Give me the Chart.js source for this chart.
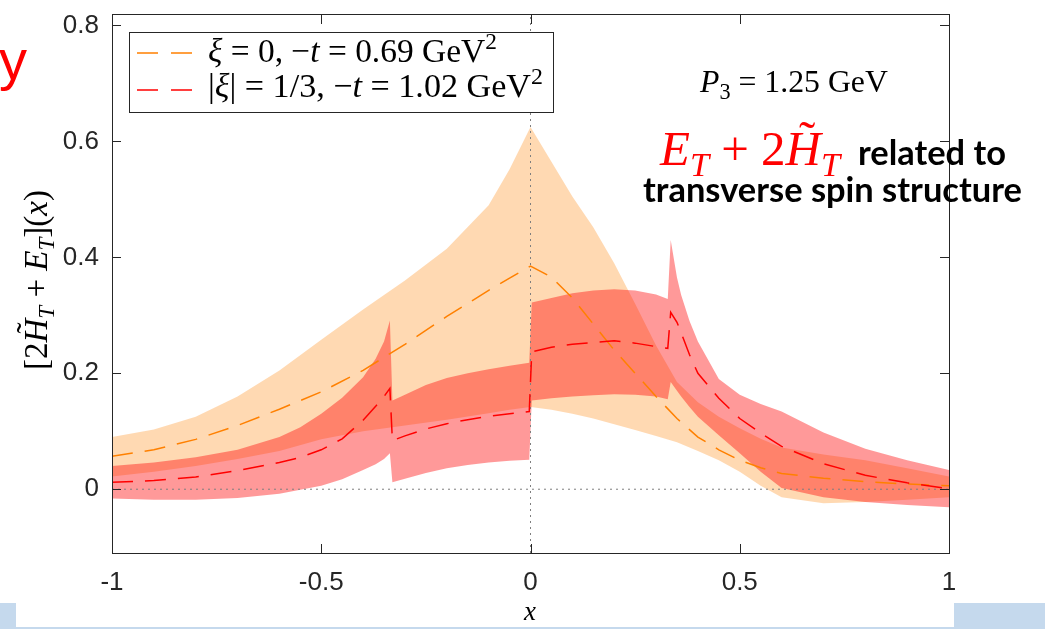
<!DOCTYPE html>
<html>
<head>
<meta charset="utf-8">
<style>
  html, body { margin: 0; padding: 0; background: #fff; }
  #wrap { position: relative; width: 1045px; height: 629px; }
</style>
<script src="https://cdn.jsdelivr.net/npm/chart.js@4.4.1/dist/chart.umd.min.js"></script>
</head>
<body>
<div id="wrap"><canvas id="gpd"></canvas></div>
<script>
// axis ranges and ticks
const xRange = [-1, 1];
const yRange = [-0.11, 0.818];
const xTicks = [-1, -0.5, 0, 0.5, 1];
const xTickLabels = ['-1', '-0.5', '0', '0.5', '1'];
const yTicks = [0, 0.2, 0.4, 0.6, 0.8];
const yTickLabels = ['0', '0.2', '0.4', '0.6', '0.8'];

// xi = 0, -t = 0.69 GeV^2 (orange)
const xOrange = [-1, -0.9, -0.8, -0.7, -0.6, -0.5, -0.4, -0.3, -0.2, -0.1, -0.05, 0,
  0.05, 0.1, 0.15, 0.2, 0.25, 0.3, 0.35, 0.4, 0.45, 0.5, 0.55, 0.6, 0.7, 0.8, 0.9, 1];
const orangeMid = [0.057, 0.068, 0.086, 0.110, 0.138, 0.168, 0.205, 0.250, 0.298, 0.343, 0.364, 0.385,
  0.366, 0.330, 0.285, 0.240, 0.200, 0.160, 0.122, 0.090, 0.068, 0.050, 0.037, 0.027, 0.019, 0.013, 0.009, 0.006];
const orangeHi = [0.090, 0.103, 0.125, 0.160, 0.205, 0.258, 0.310, 0.360, 0.415, 0.490, 0.552, 0.625,
  0.565, 0.505, 0.452, 0.390, 0.320, 0.248, 0.185, 0.150, 0.125, 0.105, 0.087, 0.072, 0.060, 0.050, 0.036, 0.022];
const orangeLo = [0.022, 0.030, 0.040, 0.052, 0.066, 0.086, 0.100, 0.110, 0.120, 0.131, 0.137, 0.142,
  0.137, 0.130, 0.122, 0.112, 0.102, 0.092, 0.081, 0.066, 0.050, 0.030, 0.006, -0.014, -0.024, -0.022, -0.018, -0.014];

// |xi| = 1/3, -t = 1.02 GeV^2 (red), jumps at x = -1/3, 0, 1/3
const xRed = [-1, -0.9, -0.8, -0.7, -0.6, -0.55, -0.5, -0.45, -0.4, -0.37, -0.35, -0.336,
  -0.330, -0.3, -0.25, -0.2, -0.15, -0.1, -0.05, -0.003,
  0.003, 0.05, 0.1, 0.15, 0.2, 0.25, 0.3, 0.328,
  0.335, 0.35, 0.36, 0.38, 0.4, 0.45, 0.5, 0.55, 0.6, 0.7, 0.8, 0.9, 1];
const redMid = [0.012, 0.015, 0.021, 0.032, 0.046, 0.055, 0.068, 0.087, 0.119, 0.143, 0.160, 0.174,
  0.084, 0.092, 0.104, 0.113, 0.120, 0.126, 0.130, 0.134,
  0.237, 0.245, 0.250, 0.253, 0.256, 0.252, 0.246, 0.243,
  0.305, 0.288, 0.270, 0.232, 0.200, 0.157, 0.122, 0.097, 0.074, 0.044, 0.024, 0.011, 0.001];
const redHi = [0.040, 0.046, 0.055, 0.068, 0.090, 0.107, 0.130, 0.158, 0.193, 0.225, 0.255, 0.291,
  0.153, 0.163, 0.180, 0.192, 0.200, 0.207, 0.213, 0.218,
  0.322, 0.330, 0.338, 0.343, 0.345, 0.343, 0.336, 0.328,
  0.430, 0.365, 0.335, 0.290, 0.255, 0.190, 0.163, 0.147, 0.134, 0.098, 0.070, 0.050, 0.033];
const redLo = [-0.016, -0.018, -0.018, -0.015, -0.008, -0.001, 0.006, 0.017, 0.033, 0.043, 0.052, 0.062,
  0.012, 0.018, 0.028, 0.036, 0.042, 0.046, 0.049, 0.051,
  0.153, 0.157, 0.160, 0.162, 0.164, 0.163, 0.160, 0.155,
  0.185, 0.170, 0.160, 0.142, 0.125, 0.093, 0.062, 0.030, 0.002, -0.014, -0.022, -0.027, -0.031];

const ORANGE = 'rgb(255,128,0)';
const RED = 'rgb(255,0,0)';
const SERIF = "'Liberation Serif', 'DejaVu Serif', serif";
const SANS = "'Liberation Sans', Arial, sans-serif";
const NONE = 'rgba(0,0,0,0)';

function toPts(xs, ys) {
  return xs.map((x, i) => ({ x: x, y: ys[i] }));
}

// --- small rich text helper for the LaTeX-like labels ---
function pieceFont(p, size) {
  const s = (p.sub || p.sup) ? size * 0.7 : size;
  const style = p.i ? 'italic ' : '';
  const weight = p.b ? 'bold ' : '';
  return style + weight + s + 'px ' + (p.family || SERIF);
}

function richWidth(ctx, pieces, size) {
  let w = 0;
  pieces.forEach(p => {
    ctx.font = pieceFont(p, size);
    w += ctx.measureText(p.t).width;
  });
  return w;
}

function fitSize(ctx, pieces, base, width) {
  return base * width / richWidth(ctx, pieces, base);
}

function drawRich(ctx, pieces, x, y, size, color) {
  ctx.textBaseline = 'alphabetic';
  ctx.textAlign = 'left';
  let cx = x;
  pieces.forEach(p => {
    ctx.font = pieceFont(p, size);
    ctx.fillStyle = p.color || color;
    let dy = 0;
    if (p.sub) dy = size * 0.22;
    if (p.sup) dy = -size * 0.38;
    ctx.fillText(p.t, cx, y + dy);
    const w = ctx.measureText(p.t).width;
    if (p.tilde) {
      ctx.font = size + 'px ' + SERIF;
      const tw = ctx.measureText('\u02DC').width;
      ctx.fillText('\u02DC', cx + w / 2 - tw / 2 + size * 0.08, y - size * 0.2);
    }
    cx += w;
  });
}

const legendLine1 = [
  { t: 'ξ', i: true }, { t: ' = 0, −' }, { t: 't', i: true }, { t: ' = 0.69 GeV' }, { t: '2', sup: true }
];
const legendLine2 = [
  { t: '|' }, { t: 'ξ', i: true }, { t: '| = 1/3, −' }, { t: 't', i: true }, { t: ' = 1.02 GeV' }, { t: '2', sup: true }
];
const momentumText = [
  { t: 'P', i: true }, { t: '3', sub: true }, { t: ' = 1.25 GeV' }
];
const redFormula = [
  { t: 'E', i: true }, { t: 'T', i: true, sub: true }, { t: ' + 2' }, { t: 'H', i: true, tilde: true }, { t: 'T', i: true, sub: true }
];
const yTitle = [
  { t: '[2' }, { t: 'H', i: true, tilde: true }, { t: 'T', i: true, sub: true }, { t: ' + ' },
  { t: 'E', i: true }, { t: 'T', i: true, sub: true }, { t: '](' }, { t: 'x', i: true }, { t: ')' }
];

const decor = {
  id: 'decor',
  beforeDraw(chart) {
    const ctx = chart.ctx;
    ctx.save();
    ctx.fillStyle = '#fff';
    ctx.fillRect(0, 0, chart.width, chart.height);
    // slide remnants
    ctx.fillStyle = '#c5d9ed';
    ctx.fillRect(0, 603, 16, 26);
    ctx.fillRect(954, 603, 91, 26);
    ctx.fillRect(0, 627, 1045, 2);
    ctx.fillStyle = RED;
    ctx.font = '56px ' + SANS;
    ctx.textBaseline = 'alphabetic';
    ctx.fillText('y', -1, 79);
    ctx.restore();
  },
  afterDatasetsDraw(chart) {
    const ctx = chart.ctx;
    const a = chart.chartArea;
    const xs = chart.scales.x, ys = chart.scales.y;
    ctx.save();
    ctx.strokeStyle = '#262626';
    ctx.lineWidth = 1;
    ctx.setLineDash([]);
    ctx.strokeRect(a.left + 0.5, a.top - 0.5, a.right - a.left, a.bottom - a.top + 1);
    const tl = 9;
    ctx.beginPath();
    yTicks.forEach(v => {
      const py = Math.round(ys.getPixelForValue(v)) + 0.5;
      ctx.moveTo(a.left, py); ctx.lineTo(a.left + tl, py);
      ctx.moveTo(a.right, py); ctx.lineTo(a.right - tl, py);
    });
    xTicks.forEach(v => {
      const px = Math.round(xs.getPixelForValue(v)) + 0.5;
      ctx.moveTo(px, a.bottom); ctx.lineTo(px, a.bottom - tl);
      ctx.moveTo(px, a.top); ctx.lineTo(px, a.top + tl);
    });
    ctx.stroke();
    ctx.restore();
  },
  afterDraw(chart) {
    const ctx = chart.ctx;
    ctx.save();

    // legend box
    ctx.fillStyle = '#fff';
    ctx.fillRect(129.5, 32.5, 424, 80);
    ctx.strokeStyle = '#262626';
    ctx.lineWidth = 1;
    ctx.strokeRect(129.5, 32.5, 424, 80);
    ctx.lineWidth = 1.6;
    ctx.setLineDash([21, 13]);
    ctx.strokeStyle = ORANGE;
    ctx.beginPath(); ctx.moveTo(137, 53); ctx.lineTo(193, 53); ctx.stroke();
    ctx.strokeStyle = RED;
    ctx.beginPath(); ctx.moveTo(137, 90); ctx.lineTo(193, 90); ctx.stroke();
    ctx.setLineDash([]);
    drawRich(ctx, legendLine1, 208, 62, fitSize(ctx, legendLine1, 30, 289), '#000');
    drawRich(ctx, legendLine2, 208, 97, fitSize(ctx, legendLine2, 30, 335), '#000');

    // annotations
    drawRich(ctx, momentumText, 700, 92, fitSize(ctx, momentumText, 30, 188), '#000');
    drawRich(ctx, redFormula, 660, 165, fitSize(ctx, redFormula, 30, 180), RED);
    const fam = "Lato, 'DejaVu Sans', sans-serif";
    const bold = [{ t: 'transverse spin structure', b: true, family: fam }];
    const bs = fitSize(ctx, bold, 24, 379);
    drawRich(ctx, [{ t: 'related to', b: true, family: fam }], 858, 165, bs, '#000');
    drawRich(ctx, bold, 643, 202, bs, '#000');

    // axis titles
    drawRich(ctx, [{ t: 'x', i: true }], 524, 620, 27, '#000');
    ctx.translate(47, 280);
    ctx.rotate(-Math.PI / 2);
    const ts = fitSize(ctx, yTitle, 28, 180);
    drawRich(ctx, yTitle, -90, 0, ts, '#000');
    ctx.restore();
  }
};

const tickFont = { family: SANS, size: 26 };

new Chart(document.getElementById('gpd'), {
  type: 'line',
  data: {
    datasets: [
      { data: toPts(xOrange, orangeHi), fill: 1, backgroundColor: 'rgba(255,128,0,0.3)', borderColor: NONE, borderWidth: 0, order: 6 },
      { data: toPts(xOrange, orangeLo), fill: false, borderColor: NONE, borderWidth: 0, order: 6 },
      { data: toPts(xRed, redHi), fill: 3, backgroundColor: 'rgba(255,0,0,0.4)', borderColor: NONE, borderWidth: 0, order: 5 },
      { data: toPts(xRed, redLo), fill: false, borderColor: NONE, borderWidth: 0, order: 5 },
      { data: [{ x: xRange[0], y: 0 }, { x: xRange[1], y: 0 }], borderColor: '#7f7f7f', borderWidth: 1, borderDash: [2, 4], fill: false, order: 3 },
      { data: [{ x: 0, y: yRange[0] }, { x: 0, y: yRange[1] }], borderColor: '#7f7f7f', borderWidth: 1, borderDash: [2, 4], fill: false, order: 3 },
      { data: toPts(xOrange, orangeMid), borderColor: ORANGE, borderWidth: 1.5, borderDash: [21, 12], fill: false, order: 2 },
      { data: toPts(xRed, redMid), borderColor: RED, borderWidth: 1.5, borderDash: [21, 12], fill: false, order: 1 }
    ]
  },
  options: {
    responsive: true,
    maintainAspectRatio: false,
    animation: false,
    events: [],
    layout: { padding: { top: 15, right: 96, left: 0, bottom: 0 } },
    elements: { point: { radius: 0 }, line: { tension: 0 } },
    plugins: { legend: { display: false }, tooltip: { enabled: false } },
    scales: {
      x: {
        type: 'linear', min: xRange[0], max: xRange[1],
        afterBuildTicks: s => { s.ticks = xTicks.map(v => ({ value: v })); },
        afterFit: s => { s.height = 76; s.paddingLeft = 0; s.paddingRight = 0; },
        ticks: { callback: (v, i) => xTickLabels[i], font: tickFont, color: '#262626', padding: 14, maxRotation: 0, autoSkip: false },
        grid: { display: false, drawTicks: false },
        border: { display: false }
      },
      y: {
        type: 'linear', min: yRange[0], max: yRange[1],
        afterBuildTicks: s => { s.ticks = yTicks.map(v => ({ value: v })); },
        afterFit: s => { s.width = 112; s.paddingTop = 0; s.paddingBottom = 0; },
        ticks: { callback: (v, i) => yTickLabels[i], font: tickFont, color: '#262626', padding: 13, autoSkip: false },
        grid: { display: false, drawTicks: false },
        border: { display: false }
      }
    }
  },
  plugins: [decor]
});
</script>
</body>
</html>
